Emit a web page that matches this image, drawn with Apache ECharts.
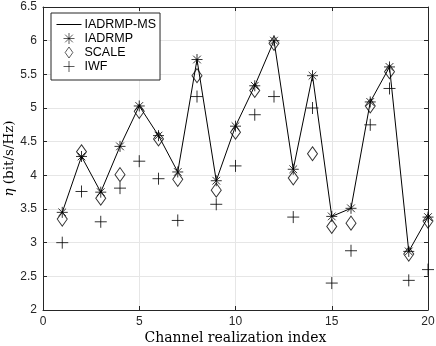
<!DOCTYPE html>
<html>
<head>
<meta charset="utf-8">
<script src="https://cdn.jsdelivr.net/npm/echarts@6/dist/echarts.min.js"></script>
<style>
html, body { margin: 0; padding: 0; background: #fff; }
#chart { width: 436px; height: 346px; }
</style>
</head>
<body>
<div id="chart"></div>
<script>
// channel realization index
const idx = [1, 2, 3, 4, 5, 6, 7, 8, 9, 10, 11, 12, 13, 14, 15, 16, 17, 18, 19, 20];
const iadrmpMS = [3.45, 4.28, 3.75, 4.43, 5.03, 4.59, 4.05, 5.72, 3.92, 4.73, 5.33, 6.0, 4.09, 5.48, 3.39, 3.51, 5.09, 5.61, 2.87, 3.38];
const iadrmp = [3.45, 4.28, 3.75, 4.43, 5.03, 4.59, 4.05, 5.72, 3.92, 4.73, 5.33, 6.0, 4.09, 5.48, 3.39, 3.51, 5.09, 5.61, 2.87, 3.38];
const scale = [3.35, 4.35, 3.66, 4.01, 4.95, 4.54, 3.94, 5.48, 3.78, 4.64, 5.26, 5.96, 3.96, 4.32, 3.24, 3.29, 5.03, 5.54, 2.83, 3.32];
const iwf = [3.0, 3.76, 3.31, 3.81, 4.21, 3.95, 3.33, 5.17, 3.57, 4.14, 4.9, 5.17, 3.38, 5.0, 2.4, 2.88, 4.75, 5.29, 2.44, 2.6];
const xTicks = [0, 5, 10, 15, 20];
const yTicks = [2, 2.5, 3, 3.5, 4, 4.5, 5, 5.5, 6, 6.5];

const pairs = (ys) => idx.map((x, i) => [x, ys[i]]);

const ASTERISK = 'path://M0,-10L0,10M-10,0L10,0M-7,-7L7,7M-7,7L7,-7';
const DIAMOND = 'path://M0,-10L7,0L0,10L-7,0Z';
const PLUS = 'path://M0,-10L0,10M-10,0L10,0';

const axisCol = '#262626';
const gridCol = '#e6e6e6';
const labelFont = { fontFamily: 'Liberation Sans', fontSize: 12, color: axisCol };
const titleFont = 'DejaVu Serif';

const markerStyle = { color: 'transparent', borderColor: '#000', borderWidth: 1 };
const legendMarker = { color: 'transparent', borderColor: '#000', borderWidth: 0.8 };

const chart = echarts.init(document.getElementById('chart'));
chart.setOption({
  animation: false,
  grid: { left: 43, right: 8, top: 7, bottom: 36, outerBoundsMode: 'none', containLabel: false },
  legend: {
    orient: 'vertical',
    left: 51, top: 13,
    itemWidth: 25, itemHeight: 11, itemGap: 1,
    padding: [5, 4, 7, 5],
    borderColor: axisCol, borderWidth: 1,
    backgroundColor: '#fff',
    textStyle: { fontFamily: 'Liberation Sans', fontSize: 12.5, color: '#000', padding: [0, 0, 0, -2] },
    data: [
      { name: 'IADRMP-MS', itemStyle: { opacity: 0 }, lineStyle: { width: 1, color: '#000' } },
      { name: 'IADRMP', itemStyle: legendMarker },
      { name: 'SCALE', itemStyle: legendMarker },
      { name: 'IWF', itemStyle: legendMarker }
    ]
  },
  xAxis: [{
    type: 'value', min: 0, max: 20, interval: 5,
    name: 'Channel realization index', nameLocation: 'middle', nameGap: 21, nameMoveOverlap: false,
    nameTextStyle: { fontFamily: titleFont, fontSize: 14, color: '#000' },
    axisLine: { show: true, onZero: false, lineStyle: { color: axisCol, width: 1 } },
    axisTick: { show: true, inside: true, length: 4, lineStyle: { color: axisCol } },
    axisLabel: Object.assign({ margin: 6, formatter: (v) => xTicks.includes(v) ? String(v) : '' }, labelFont),
    splitLine: { show: true, lineStyle: { color: gridCol, width: 1 } }
  }, {
    type: 'value', min: 0, max: 20, interval: 5, position: 'top',
    axisLine: { show: true, onZero: false, lineStyle: { color: axisCol, width: 1 } },
    axisTick: { show: true, inside: true, length: 4, lineStyle: { color: axisCol } },
    axisLabel: { show: false }, splitLine: { show: false }
  }],
  yAxis: [{
    type: 'value', min: 2, max: 6.5, interval: 0.5,
    name: '{i|η} (bit/s/Hz)', nameLocation: 'middle', nameGap: 27, nameRotate: 90, nameMoveOverlap: false,
    nameTextStyle: {
      fontFamily: titleFont, fontSize: 13.5, color: '#000',
      rich: { i: { fontFamily: titleFont, fontStyle: 'italic', fontSize: 13.5, color: '#000' } }
    },
    axisLine: { show: true, onZero: false, lineStyle: { color: axisCol, width: 1 } },
    axisTick: { show: true, inside: true, length: 4, lineStyle: { color: axisCol } },
    axisLabel: Object.assign({ margin: 6, formatter: (v) => yTicks.includes(v) ? String(v) : '' }, labelFont),
    splitLine: { show: true, lineStyle: { color: gridCol, width: 1 } }
  }, {
    type: 'value', min: 2, max: 6.5, interval: 0.5, position: 'right',
    axisLine: { show: true, onZero: false, lineStyle: { color: axisCol, width: 1 } },
    axisTick: { show: true, inside: true, length: 4, lineStyle: { color: axisCol } },
    axisLabel: { show: false }, splitLine: { show: false }
  }],
  series: [{
    name: 'IADRMP-MS', type: 'line', data: pairs(iadrmpMS),
    symbol: 'none', lineStyle: { color: '#000', width: 1 }, itemStyle: { color: '#000' }, z: 2
  }, {
    name: 'IADRMP', type: 'scatter', data: pairs(iadrmp),
    symbol: ASTERISK, symbolSize: 11, symbolKeepAspect: true, itemStyle: markerStyle, z: 3
  }, {
    name: 'SCALE', type: 'scatter', data: pairs(scale),
    symbol: DIAMOND, symbolSize: [10, 14], itemStyle: markerStyle, z: 3
  }, {
    name: 'IWF', type: 'scatter', data: pairs(iwf),
    symbol: PLUS, symbolSize: 12, itemStyle: markerStyle, z: 3
  }]
});
</script>
</body>
</html>
